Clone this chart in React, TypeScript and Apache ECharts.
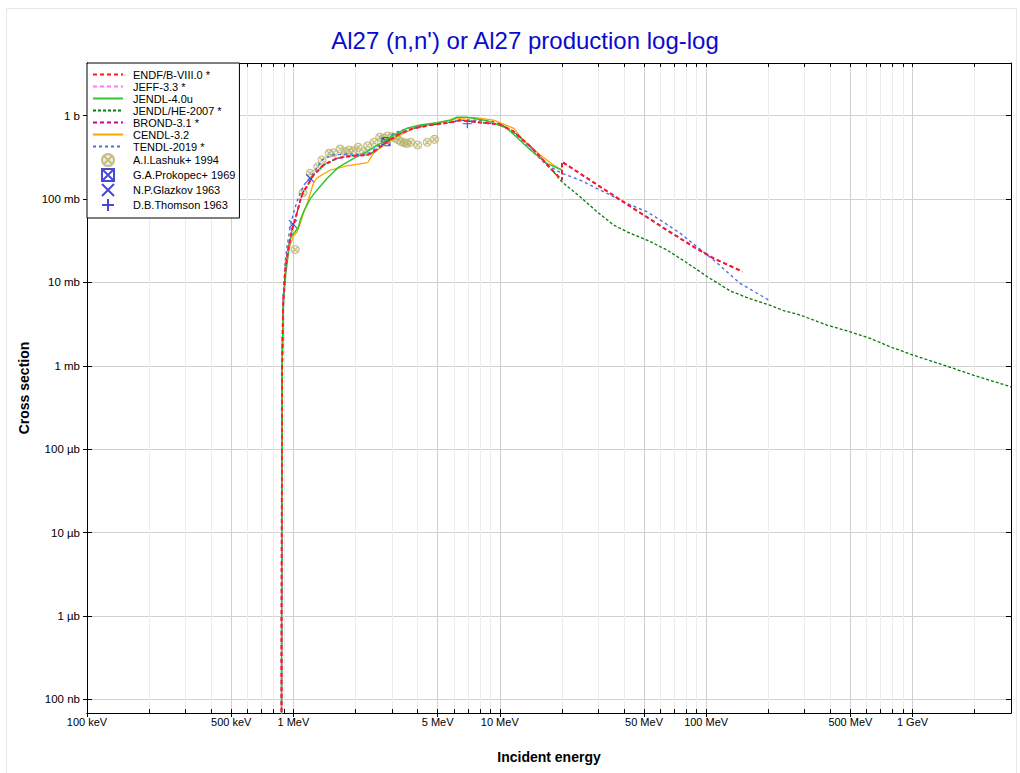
import React, { useEffect, useRef } from "react";
import * as echarts from "echarts";

// ---------- axis ranges & ticks ----------
const X_MIN = 1e5;
const X_MAX = 3e9;
const Y_MIN = 6.85e-8;
const Y_MAX = 4.29;

const xMajorTicks = [1e5, 5e5, 1e6, 5e6, 1e7, 5e7, 1e8, 5e8, 1e9];
const xMinorTicks = [
  2e5, 3e5, 4e5, 6e5, 7e5, 8e5, 9e5,
  2e6, 3e6, 4e6, 6e6, 7e6, 8e6, 9e6,
  2e7, 3e7, 4e7, 6e7, 7e7, 8e7, 9e7,
  2e8, 3e8, 4e8, 6e8, 7e8, 8e8, 9e8,
  2e9,
];
const xAllTicks = [...xMajorTicks, ...xMinorTicks];
const yTicks = [1e-7, 1e-6, 1e-5, 1e-4, 1e-3, 1e-2, 1e-1, 1];

// ---------- evaluated data (E in eV, cross section in b) ----------
const endfE = [8.75e5, 8.77e5, 8.82e5, 8.93e5, 9.16e5, 9.48e5, 9.84e5, 1.04e6, 1.08e6, 1.12e6, 1.17e6, 1.25e6, 1.4e6, 1.62e6, 1.89e6, 2.27e6, 2.39e6, 2.64e6, 2.93e6, 3.3e6, 3.82e6, 4.6e6, 5.76e6, 6.44e6, 8.0e6, 1.0e7, 1.17e7, 1.41e7, 1.57e7, 1.76e7, 2.0e7, 2.0e7, 2.74e7, 3.84e7, 4.97e7, 6.46e7, 8.69e7, 1.09e8, 1.5e8];
const endfXS = [1e-9, 1e-6, 1e-3, 0.006, 0.0147, 0.0268, 0.0424, 0.0675, 0.097, 0.125, 0.145, 0.194, 0.256, 0.308, 0.329, 0.338, 0.354, 0.425, 0.511, 0.615, 0.706, 0.773, 0.83, 0.885, 0.83, 0.79, 0.643, 0.425, 0.322, 0.234, 0.169, 0.281, 0.169, 0.0976, 0.0646, 0.0424, 0.0268, 0.0194, 0.0135];

const jeffE = [8.75e5, 8.77e5, 8.82e5, 8.93e5, 9.16e5, 9.48e5, 9.84e5, 1.04e6, 1.08e6, 1.12e6, 1.17e6, 1.25e6, 1.4e6, 1.62e6, 1.89e6, 2.27e6, 2.39e6, 2.64e6, 2.93e6, 3.3e6, 3.82e6, 4.6e6, 5.76e6, 6.44e6, 8.0e6, 1.0e7, 1.17e7, 1.41e7, 1.57e7, 1.76e7, 2.0e7];
const jeffXS = [1e-9, 1e-6, 1e-3, 0.006, 0.0147, 0.0268, 0.0424, 0.0675, 0.097, 0.125, 0.145, 0.194, 0.256, 0.308, 0.329, 0.338, 0.354, 0.425, 0.511, 0.615, 0.706, 0.773, 0.83, 0.885, 0.83, 0.79, 0.643, 0.425, 0.322, 0.234, 0.169];

const jendl4E = [8.75e5, 8.77e5, 8.82e5, 8.93e5, 9.16e5, 9.4e5, 9.66e5, 9.95e5, 1.02e6, 1.06e6, 1.08e6, 1.12e6, 1.21e6, 1.3e6, 1.455e6, 1.65e6, 1.96e6, 2.27e6, 2.64e6, 3.06e6, 3.55e6, 4.12e6, 4.97e6, 5.76e6, 6.2e6, 6.94e6, 8.67e6, 1.08e7, 1.41e7, 1.69e7, 2.0e7];
const jendl4XS = [1e-9, 1e-6, 1e-3, 0.005, 0.012, 0.02, 0.0338, 0.038, 0.0406, 0.0466, 0.056, 0.0705, 0.102, 0.128, 0.177, 0.24, 0.308, 0.37, 0.466, 0.587, 0.706, 0.773, 0.824, 0.888, 0.957, 0.957, 0.871, 0.71, 0.388, 0.268, 0.223];

const jendlHeE = [8.75e5, 8.77e5, 8.82e5, 8.93e5, 9.16e5, 9.48e5, 9.84e5, 1.04e6, 1.08e6, 1.12e6, 1.17e6, 1.25e6, 1.4e6, 1.62e6, 1.89e6, 2.27e6, 2.39e6, 2.64e6, 2.93e6, 3.3e6, 3.82e6, 4.6e6, 5.76e6, 6.44e6, 8.0e6, 1.0e7, 1.17e7, 1.41e7, 1.57e7, 1.76e7, 2.0e7, 2.45e7, 2.96e7, 3.56e7, 4.29e7, 5.17e7, 6.46e7, 8.07e7, 1.01e8, 1.31e8, 1.6e8, 2.05e8, 2.37e8, 2.86e8, 3.85e8, 4.99e8, 6.24e8, 7.8e8, 1.01e9, 1.47e9, 1.98e9, 3.0e9];
const jendlHeXS = [1e-9, 1e-6, 1e-3, 0.006, 0.0147, 0.0268, 0.0424, 0.0675, 0.097, 0.125, 0.145, 0.194, 0.256, 0.308, 0.329, 0.338, 0.354, 0.425, 0.511, 0.615, 0.706, 0.773, 0.83, 0.885, 0.83, 0.79, 0.643, 0.425, 0.322, 0.234, 0.161, 0.1067, 0.0705, 0.0488, 0.0388, 0.0322, 0.0245, 0.0172, 0.0118, 0.0079, 0.0065, 0.0053, 0.0046, 0.00406, 0.00308, 0.00256, 0.00213, 0.00169, 0.00134, 0.00099, 0.00077, 0.00056];

const brondE = [8.75e5, 8.77e5, 8.82e5, 8.93e5, 9.16e5, 9.48e5, 9.84e5, 1.04e6, 1.08e6, 1.12e6, 1.17e6, 1.25e6, 1.4e6, 1.62e6, 1.89e6, 2.27e6, 2.39e6, 2.64e6, 2.93e6, 3.3e6, 3.82e6, 4.6e6, 5.76e6, 6.44e6, 8.0e6, 1.0e7, 1.17e7, 1.41e7, 1.57e7, 1.76e7, 2.0e7, 2.0e7, 2.74e7, 3.84e7, 4.97e7, 6.46e7, 8.69e7, 1.09e8, 1.5e8];
const brondXS = [1e-9, 1e-6, 1e-3, 0.006, 0.0147, 0.0268, 0.0424, 0.0675, 0.097, 0.125, 0.145, 0.194, 0.256, 0.308, 0.329, 0.338, 0.354, 0.425, 0.511, 0.615, 0.706, 0.773, 0.83, 0.885, 0.83, 0.79, 0.643, 0.425, 0.322, 0.234, 0.169, 0.281, 0.169, 0.0976, 0.0646, 0.0424, 0.0268, 0.0194, 0.0135];

const cendlE = [8.75e5, 8.77e5, 8.82e5, 8.93e5, 9.16e5, 9.5e5, 1.0e6, 1.04e6, 1.08e6, 1.12e6, 1.18e6, 1.25e6, 1.3e6, 1.51e6, 1.82e6, 2.29e6, 2.44e6, 2.75e6, 3.18e6, 3.82e6, 4.6e6, 5.76e6, 6.2e6, 7.47e6, 9.33e6, 1.17e7, 1.3e7, 1.57e7, 1.82e7, 2.0e7];
const cendlXS = [1e-9, 1e-6, 1e-3, 0.006, 0.0147, 0.025, 0.036, 0.04, 0.051, 0.068, 0.097, 0.155, 0.18, 0.223, 0.25, 0.273, 0.354, 0.445, 0.56, 0.706, 0.795, 0.871, 0.931, 0.957, 0.888, 0.706, 0.511, 0.338, 0.256, 0.223];

const tendlE = [8.75e5, 8.77e5, 8.82e5, 8.93e5, 9.1e5, 9.31e5, 9.66e5, 1.0e6, 1.06e6, 1.08e6, 1.12e6, 1.23e6, 1.376e6, 1.53e6, 1.82e6, 2.27e6, 2.44e6, 2.75e6, 3.06e6, 3.55e6, 4.27e6, 5.55e6, 6.94e6, 9.33e6, 1.08e7, 1.257e7, 1.355e7, 1.69e7, 2.0e7, 2.45e7, 3.31e7, 4.13e7, 5.17e7, 6.0e7, 7.5e7, 9.02e7, 1.09e8, 1.46e8, 2.0e8];
const tendlXS = [1e-9, 1e-6, 1e-3, 0.007, 0.016, 0.0268, 0.0466, 0.0675, 0.107, 0.117, 0.145, 0.194, 0.294, 0.338, 0.347, 0.344, 0.388, 0.488, 0.615, 0.706, 0.773, 0.847, 0.888, 0.86, 0.72, 0.54, 0.43, 0.256, 0.204, 0.169, 0.117, 0.0889, 0.0705, 0.056, 0.0388, 0.0268, 0.0185, 0.00975, 0.0062];

// ---------- experimental data ----------
const lashukE = [1.02e6, 1.113e6, 1.207e6, 1.314e6, 1.376e6, 1.49e6, 1.566e6, 1.686e6, 1.78e6, 1.862e6, 1.955e6, 2.06e6, 2.19e6, 2.29e6, 2.46e6, 2.62e6, 2.73e6, 2.86e6, 3.0e6, 3.12e6, 3.23e6, 3.33e6, 3.45e6, 3.55e6, 3.71e6, 4.0e6, 4.45e6, 4.83e6];
const lashukXS = [0.0249, 0.119, 0.204, 0.244, 0.294, 0.354, 0.36, 0.398, 0.37, 0.388, 0.38, 0.418, 0.37, 0.436, 0.48, 0.551, 0.536, 0.571, 0.56, 0.536, 0.511, 0.488, 0.474, 0.466, 0.48, 0.445, 0.48, 0.521];
const prokopecE = [2.81e6];
const prokopecXS = [0.488];
const glazkovE = [9.95e5, 1.207e6];
const glazkovXS = [0.0502, 0.177];
const thomsonE = [6.96e6];
const thomsonXS = [0.80];

const FONT = "'Liberation Sans', Arial, Helvetica, sans-serif";

function fmtEnergy(v: number): string {
  const r = (x: number) => Math.round(x * 1000) / 1000;
  if (v >= 1e9 * 0.999) return r(v / 1e9) + " GeV";
  if (v >= 1e6 * 0.999) return r(v / 1e6) + " MeV";
  if (v >= 1e3 * 0.999) return r(v / 1e3) + " keV";
  return r(v) + " eV";
}
function fmtXS(v: number): string {
  const r = (x: number) => Math.round(x * 1000) / 1000;
  if (v >= 0.999) return r(v) + " b";
  if (v >= 1e-3 * 0.999) return r(v / 1e-3) + " mb";
  if (v >= 1e-6 * 0.999) return r(v / 1e-6) + " µb";
  return r(v / 1e-9) + " nb";
}

const pairs = (E: number[], XS: number[]) => E.map((e, i) => [e, XS[i]]);

const SYM_OTIMES = "path://M10,1A9,9 0 1,1 9.99,1Z M3.6,3.6L16.4,16.4 M16.4,3.6L3.6,16.4";
const SYM_BOXTIMES = "path://M0,0L20,0L20,20L0,20Z M0,0L20,20 M20,0L0,20";
const SYM_TIMES = "path://M0,0L20,20 M20,0L0,20";
const SYM_PLUS = "path://M10,0L10,20 M0,10L20,10";

const lineNames = [
  "ENDF/B-VIII.0 *",
  "JEFF-3.3 *",
  "JENDL-4.0u",
  "JENDL/HE-2007 *",
  "BROND-3.1 *",
  "CENDL-3.2",
  "TENDL-2019 *",
];
const expNames = [
  "A.I.Lashuk+ 1994",
  "G.A.Prokopec+ 1969",
  "N.P.Glazkov 1963",
  "D.B.Thomson 1963",
];

export default function App() {
  const ref = useRef<HTMLDivElement>(null);

  useEffect(() => {
    if (!ref.current) return;
    const chart = echarts.init(ref.current, undefined, { renderer: "svg" });

    const line = (
      name: string,
      E: number[],
      XS: number[],
      color: string,
      width: number,
      dash: number[] | "solid"
    ) => ({
      name,
      type: "line",
      data: pairs(E, XS),
      symbol: "none",
      showSymbol: false,
      silent: true,
      clip: true,
      lineStyle: { color, width, type: dash },
      itemStyle: { color },
    });

    const scatter = (
      name: string,
      E: number[],
      XS: number[],
      symbol: string,
      size: number,
      stroke: string,
      fill: string
    ) => ({
      name,
      type: "scatter",
      data: pairs(E, XS),
      symbol,
      symbolSize: size,
      silent: true,
      clip: true,
      itemStyle: { color: fill, borderColor: stroke, borderWidth: 1.1 },
    });

    const legendData = [
      ...lineNames.map((n) => ({ name: n, itemStyle: { opacity: 0 } })),
      ...expNames.map((n) => ({ name: n })),
    ];

    const baseX = {
      type: "log",
      logBase: 10,
      min: X_MIN,
      max: X_MAX,
      axisLine: { show: true, onZero: false, lineStyle: { color: "#000", width: 1 } },
    };
    const baseY = {
      type: "log",
      logBase: 10,
      min: Y_MIN,
      max: Y_MAX,
      axisLine: { show: true, onZero: false, lineStyle: { color: "#000", width: 1 } },
    };

    const option: any = {
      animation: false,
      backgroundColor: "#ffffff",
      textStyle: { fontFamily: FONT },
      title: {
        text: "Al27 (n,n') or Al27 production log-log",
        left: 520,
        textAlign: "center",
        top: 23,
        textStyle: { color: "#0a0acc", fontSize: 24, fontWeight: "normal", fontFamily: FONT },
      },
      graphic: [
        {
          type: "rect",
          shape: { x: 6.5, y: 8.5, width: 1010, height: 790 },
          style: { fill: "none", stroke: "#e6e6e6", lineWidth: 1 },
          silent: true,
          z: -10,
        },
      ],
      grid: { left: 87, right: 9, top: 63, bottom: 60, containLabel: false },
      legend: {
        data: legendData,
        orient: "vertical",
        left: 87,
        top: 63,
        itemWidth: 30,
        itemHeight: 12,
        itemGap: 1,
        padding: [6, 4, 6, 5],
        backgroundColor: "#ffffff",
        borderColor: "#000000",
        borderWidth: 1,
        borderRadius: 0,
        selectedMode: false,
        textStyle: { fontSize: 11, color: "#000", fontFamily: FONT, padding: [0, 0, 0, 5] },
        z: 20,
      },
      xAxis: [
        {
          ...baseX,
          position: "bottom",
          axisTick: { show: true, inside: true, length: 4, customValues: xAllTicks, lineStyle: { color: "#000" } },
          axisLabel: { show: false },
          splitLine: { show: true, lineStyle: { color: "#ececec", width: 1 } },
        },
        {
          ...baseX,
          position: "bottom",
          name: "Incident energy",
          nameLocation: "middle",
          nameGap: 37,
          nameTextStyle: { fontSize: 14, fontWeight: "bold", color: "#000", fontFamily: FONT },
          axisTick: { show: true, inside: false, length: 4, customValues: xMajorTicks, lineStyle: { color: "#000" } },
          axisLabel: {
            show: true,
            customValues: xMajorTicks,
            formatter: (v: number) => fmtEnergy(v),
            fontSize: 11,
            color: "#000",
            margin: 3,
            fontFamily: FONT,
          },
          splitLine: { show: true, lineStyle: { color: "#cfcfcf", width: 1 } },
        },
        {
          ...baseX,
          position: "top",
          axisTick: { show: true, inside: true, length: 4, customValues: xAllTicks, lineStyle: { color: "#000" } },
          axisLabel: { show: false },
          splitLine: { show: false },
        },
      ],
      yAxis: [
        {
          ...baseY,
          position: "left",
          name: "Cross section",
          nameLocation: "middle",
          nameGap: 55,
          nameRotate: 90,
          nameTextStyle: { fontSize: 14, fontWeight: "bold", color: "#000", fontFamily: FONT },
          axisTick: { show: true, inside: false, length: 4, customValues: yTicks, lineStyle: { color: "#000" } },
          axisLabel: {
            show: true,
            customValues: yTicks,
            formatter: (v: number) => fmtXS(v),
            fontSize: 11.5,
            color: "#000",
            margin: 7,
            fontFamily: FONT,
          },
          splitLine: { show: true, lineStyle: { color: "#cfcfcf", width: 1 } },
        },
        {
          ...baseY,
          position: "left",
          axisTick: { show: true, inside: true, length: 5, customValues: yTicks, lineStyle: { color: "#000" } },
          axisLabel: { show: false },
          splitLine: { show: false },
        },
        {
          ...baseY,
          position: "right",
          axisTick: { show: true, inside: true, length: 5, customValues: yTicks, lineStyle: { color: "#000" } },
          axisLabel: { show: false },
          splitLine: { show: false },
        },
      ],
      series: [
        line("TENDL-2019 *", tendlE, tendlXS, "#4a6fe0", 1.4, [3, 3]),
        line("CENDL-3.2", cendlE, cendlXS, "#ffa500", 1.3, "solid"),
        line("JENDL/HE-2007 *", jendlHeE, jendlHeXS, "#0a7a0a", 1.3, [3, 2]),
        line("JENDL-4.0u", jendl4E, jendl4XS, "#33c433", 1.5, "solid"),
        line("BROND-3.1 *", brondE, brondXS, "#cc0099", 1.8, [4, 3]),
        line("JEFF-3.3 *", jeffE, jeffXS, "#ff77ff", 1.8, [4, 3]),
        line("ENDF/B-VIII.0 *", endfE, endfXS, "#ff1a1a", 1.8, [4, 3]),
        scatter(expNames[0], lashukE, lashukXS, SYM_OTIMES, 8, "#b5b06a", "rgba(200,195,130,0.3)"),
        scatter(expNames[1], prokopecE, prokopecXS, SYM_BOXTIMES, 8, "#1a1acc", "rgba(0,0,0,0)"),
        scatter(expNames[2], glazkovE, glazkovXS, SYM_TIMES, 8, "#1a1acc", "rgba(0,0,0,0)"),
        scatter(expNames[3], thomsonE, thomsonXS, SYM_PLUS, 9, "#1a1acc", "rgba(0,0,0,0)"),
      ],
    };

    chart.setOption(option);
    return () => {
      chart.dispose();
    };
  }, []);

  return (
    <div
      ref={ref}
      style={{ position: "fixed", left: 0, top: 0, width: 1020, height: 773, background: "#fff" }}
    />
  );
}
